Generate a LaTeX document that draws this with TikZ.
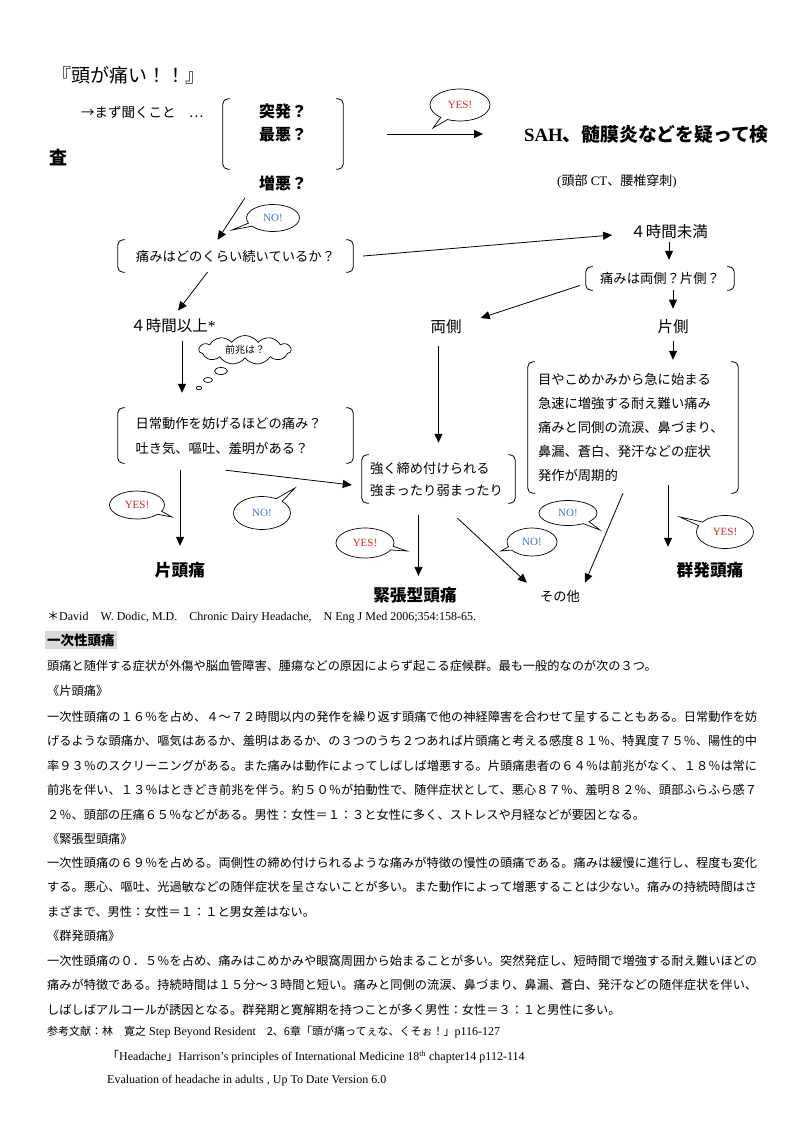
\documentclass[tikz,border=0pt]{standalone}
\usepackage{fontspec}
\setmainfont{Liberation Serif}
\newfontfamily\jp{Noto Sans CJK JP}
\usetikzlibrary{positioning,arrows.meta,shapes.callouts,shapes.symbols}
\usepackage{xcolor}
\definecolor{yesred}{RGB}{228,32,38}
\definecolor{noblue}{RGB}{68,112,200}
\XeTeXlinebreaklocale "ja"
\XeTeXlinebreakskip=0pt plus 1pt

\begin{document}
\begin{tikzpicture}[x=1pt,y=-1pt,
    every node/.append style={inner sep=3pt},
    qtext/.style={font=\jp\fontsize{13.3}{24}\selectfont},
    lbl/.style={font=\jp\fontsize{15.5}{18}\selectfont},
    res/.style={font=\jp\bfseries\fontsize{16.7}{20}\selectfont},
    arr/.style={line width=0.8pt,-{Triangle[length=9pt,width=8pt]}},
    brk/.style={append after command={\pgfextra{\draw[line width=0.8pt,rounded corners=5pt]
      ([xshift=7pt]\tikzlastnode.north west) -- (\tikzlastnode.north west) -- (\tikzlastnode.south west) -- ([xshift=7pt]\tikzlastnode.south west)
      ([xshift=-7pt]\tikzlastnode.north east) -- (\tikzlastnode.north east) -- (\tikzlastnode.south east) -- ([xshift=-7pt]\tikzlastnode.south east);}}},
    bubble/.style={ellipse callout, draw, line width=0.7pt, inner sep=0pt,
      font=\fontsize{11}{11}\selectfont, minimum width=57pt, minimum height=30pt},
    yes/.style={bubble, text=yesred},
    no/.style={bubble, text=noblue},
    body/.style={anchor=north west, inner sep=0pt, text width=710pt, align=justify,
      font=\jp\fontsize{12.2}{24.6}\selectfont},
    small/.style={anchor=west, inner sep=0pt, font=\fontsize{12}{13}\selectfont}]
\useasboundingbox (0,0) rectangle (800,1133);

% flowchart
\node[anchor=west, font=\jp\fontsize{19}{22}\selectfont] (title) at (49,75) {『頭が痛い！！』};
\node[anchor=west, font=\jp\fontsize{13.5}{16}\selectfont] (ask) at (78,112) {→まず聞くこと　…};
\node[brk, align=center, minimum width=120pt, minimum height=70pt,
  font=\jp\bfseries\fontsize{16}{23}\selectfont] (q1) at (283,134) {突発？\\最悪？\\~};
\node[font=\jp\bfseries\fontsize{16}{20}\selectfont] (worse) at (283,183) {増悪？};
\node[anchor=west, font=\bfseries\fontsize{18.8}{22}\selectfont] (sah) at (521,134) {SAH{\jp 、髄膜炎などを疑って検}};
\node[anchor=west, font=\jp\bfseries\fontsize{18}{22}\selectfont] (sah2) at (46,158) {査};
\node[font=\fontsize{13}{16}\selectfont] (exam) at (617,181) {({\jp 頭部} CT{\jp 、腰椎穿刺})};

\node[brk, qtext, minimum width=235pt, minimum height=32pt] (q2) at (235.5,256) {痛みはどのくらい続いているか？};
\node[lbl] (lt4) at (669,232) {４時間未満};
\node[brk, qtext, minimum width=148pt, minimum height=23pt] (q3) at (660,278.5) {痛みは両側？片側？};
\node[lbl] (ge4) at (173,326) {４時間以上{\rmfamily *}};
\node[lbl] (both) at (446,327) {両側};
\node[lbl] (one) at (673,327) {片側};

\node[brk, qtext, text width=200pt, align=left, minimum width=235pt, minimum height=55pt,
  font=\jp\fontsize{13.3}{25}\selectfont] (q4) at (235.5,435.5) {日常動作を妨げるほどの痛み？\\吐き気、嘔吐、羞明がある？};
\node[brk, qtext, text width=137pt, align=left, minimum width=153pt, minimum height=48pt,
  font=\jp\fontsize{13.3}{22}\selectfont] (q5) at (438.5,479) {強く締め付けられる\\強まったり弱まったり};
\node[brk, qtext, text width=190pt, align=left, minimum width=210pt, minimum height=131pt] (q6) at (633,427.5)
  {目やこめかみから急に始まる\\急速に増強する耐え難い痛み\\痛みと同側の流涙、鼻づまり、\\鼻漏、蒼白、発汗などの症状\\発作が周期的};

\node[res] (mig) at (180,570) {片頭痛};
\node[res] (tth) at (415,595) {緊張型頭痛};
\node[qtext] (oth) at (560,596) {その他};
\node[res] (clu) at (710,570) {群発頭痛};

\draw[arr] ([xshift=44pt]q1.east) -- ([xshift=-38pt]sah.west);
\draw[arr] ([xshift=-38pt,yshift=-4pt]worse.south) -- ([xshift=-18pt]q2.north);
\draw[arr] ([xshift=10pt]q2.east) -- ([xshift=-15pt,yshift=-3pt]lt4.west);
\draw[arr] ([xshift=-28pt]q2.south) -- ([xshift=5pt,yshift=5pt]ge4.north);
\draw[arr, shorten >=7pt] (lt4.south) -- (lt4.south |- q3.north);
\draw[arr, shorten >=8pt] (one.north |- q3.south) -- (one.north);
\draw[arr, shorten <=4pt, shorten >=2pt] (one.south) -- (one.south |- q6.north);
\draw[arr] ([xshift=-6pt,yshift=-7pt]q3.west) -- ([xshift=16pt,yshift=9pt]both.east);
\draw[arr, shorten <=9pt, shorten >=12pt] (both.south -| q5.north) -- (q5.north);
\draw[arr, shorten <=5pt, shorten >=15pt] ([xshift=9pt]ge4.south) -- ([xshift=9pt]ge4.south |- q4.north);
\draw[arr, shorten <=7pt, shorten >=13pt] (mig.north |- q4.south) -- (mig.north);
\draw[arr] ([xshift=-10pt,yshift=-7pt]q4.south) -- ([xshift=-10pt,yshift=-6pt]q5.west);
\draw[arr, shorten <=12pt, shorten >=8pt] ([xshift=-20pt]q5.south) -- ([xshift=-20pt]q5.south |- tth.north);
\draw[arr] ([xshift=19pt,yshift=-15pt]q5.south) -- ([xshift=-10pt,yshift=4pt]oth.north west);
\draw[arr] ([xshift=-10pt]q6.south) -- ([xshift=25pt,yshift=4pt]oth.north);
\draw[arr, shorten >=12pt] ([xshift=35pt,yshift=8pt]q6.south) -- ([xshift=35pt]q6.south |- clu.north);

% speech bubbles
\node[yes, minimum width=60pt, minimum height=32pt, callout absolute pointer={(433,128)}] (yes1) at (460,105) {YES!};
\node[no, minimum width=53pt, minimum height=27pt, callout absolute pointer={(232,230)}] (no1) at (273,218) {NO!};
\node[draw, cloud, cloud puffs=11, cloud puff arc=110, aspect=3.2,
  minimum width=92pt, minimum height=29pt, inner sep=0pt, line width=0.7pt,
  font=\jp\fontsize{10}{10}\selectfont] (aura) at (245,350) {前兆は？};
\draw[line width=0.7pt] (221,371) ellipse [x radius=6.5pt, y radius=3.5pt]
  (208,380) ellipse [x radius=4.5pt, y radius=2.5pt]
  (199,388) ellipse [x radius=2.8pt, y radius=1.8pt];
\node[yes, minimum width=55pt, minimum height=28pt, callout absolute pointer={(172,517)}] (yes2) at (137,505) {YES!};
\node[no, minimum height=33pt, callout absolute pointer={(295,488)}] (no2) at (262,513) {NO!};
\node[yes, minimum width=58pt, callout absolute pointer={(407,551)}] (yes3) at (365,543) {YES!};
\node[no, minimum width=50pt, minimum height=28pt, callout absolute pointer={(501,551)}] (no3) at (532,542) {NO!};
\node[no, minimum width=58pt, minimum height=25pt, callout absolute pointer={(600,530)}] (no4) at (568,513) {NO!};
\node[yes, minimum height=33pt, callout absolute pointer={(680,517)}] (yes4) at (725,532) {YES!};

% notes
\node[small] (fn) at (47,617) {{\jp ＊}David\quad W. Dodic, M.D.\quad Chronic Dairy Headache,\quad N Eng J Med 2006;354:158-65.};
\node[anchor=west, fill=black!15, inner xsep=2pt, inner ysep=3pt,
  font=\jp\bfseries\fontsize{13.5}{15}\selectfont] (head) at (45,640) {一次性頭痛};
\node[body] (p0) at (47,659.6) {頭痛と随伴する症状が外傷や脳血管障害、腫瘍などの原因によらず起こる症候群。最も一般的なのが次の３つ。};
\node[body] (h1) at (47,684.6) {《片頭痛》};
\node[body] (p1) at (47,710.6) {一次性頭痛の１６％を占め、４～７２時間以内の発作を繰り返す頭痛で他の神経障害を合わせて呈することもある。日常動作を妨\linebreak
げるような頭痛か、嘔気はあるか、羞明はあるか、の３つのうち２つあれば片頭痛と考える感度８１％、特異度７５％、陽性的中\linebreak
率９３％のスクリーニングがある。また痛みは動作によってしばしば増悪する。片頭痛患者の６４％は前兆がなく、１８％は常に\linebreak
前兆を伴い、１３％はときどき前兆を伴う。約５０％が拍動性で、随伴症状として、悪心８７％、羞明８２％、頭部ふらふら感７\linebreak
２％、頭部の圧痛６５％などがある。男性：女性＝１：３と女性に多く、ストレスや月経などが要因となる。};
\node[body] (h2) at (47,832.6) {《緊張型頭痛》};
\node[body] (p2) at (47,856.6) {一次性頭痛の６９％を占める。両側性の締め付けられるような痛みが特徴の慢性の頭痛である。痛みは緩慢に進行し、程度も変化\linebreak
する。悪心、嘔吐、光過敏などの随伴症状を呈さないことが多い。また動作によって増悪することは少ない。痛みの持続時間はさ\linebreak
まざまで、男性：女性＝１：１と男女差はない。};
\node[body] (h3) at (47,929.6) {《群発頭痛》};
\node[body] (p3) at (47,954.6) {一次性頭痛の０．５％を占め、痛みはこめかみや眼窩周囲から始まることが多い。突然発症し、短時間で増強する耐え難いほどの\linebreak
痛みが特徴である。持続時間は１５分～３時間と短い。痛みと同側の流涙、鼻づまり、鼻漏、蒼白、発汗などの随伴症状を伴い、\linebreak
しばしばアルコールが誘因となる。群発期と寛解期を持つことが多く男性：女性＝３：１と男性に多い。};
\node[small] (ref1) at (47,1032) {{\jp\fontsize{11}{12}\selectfont 参考文献：林　寛之} Step Beyond Resident{\jp\fontsize{11}{12}\selectfont 　2、6章「頭が痛ってぇな、くそぉ！」}p116-127};
\node[small] (ref2) at (107,1057) {{\jp 「}Headache{\jp 」}Harrison's principles of International Medicine 18\textsuperscript{th} chapter14 p112-114};
\node[small] (ref3) at (107,1081) {Evaluation of headache in adults , Up To Date Version 6.0};
\end{tikzpicture}
\end{document}
